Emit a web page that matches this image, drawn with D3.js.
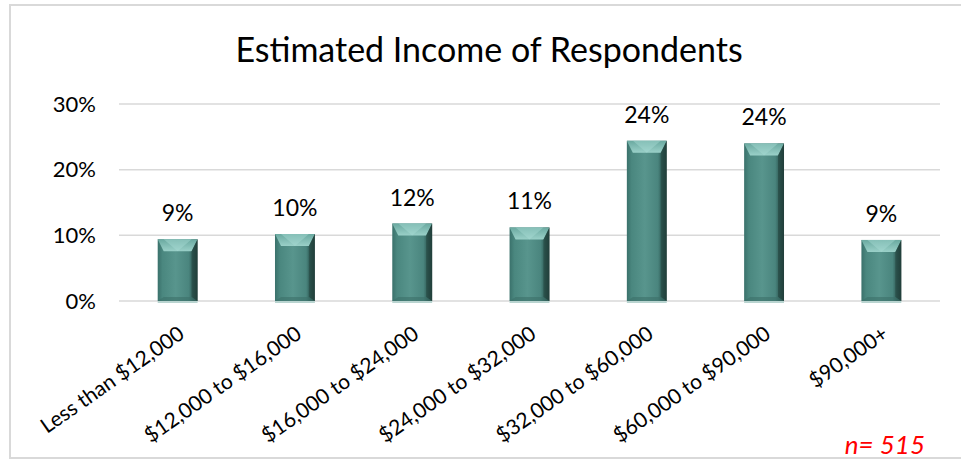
<!DOCTYPE html>
<html>
<head>
<meta charset="utf-8">
<script src="https://cdn.jsdelivr.net/npm/d3@7/dist/d3.min.js"></script>
<style>
  html, body { margin: 0; padding: 0; background: #fff; }
  svg { display: block; }
  text { font-family: Lato, "Open Sans", sans-serif; }
</style>
</head>
<body>
<script>
// Income brackets and the share of respondents in each
const categories = ["Less than $12,000", "$12,000 to $16,000", "$16,000 to $24,000",
  "$24,000 to $32,000", "$32,000 to $60,000", "$60,000 to $90,000", "$90,000+"];
const shares = [0.094, 0.102, 0.118, 0.112, 0.244, 0.240, 0.093];
const yTicks = [0, 0.1, 0.2, 0.3];
const titleText = "Estimated Income of Respondents";
const sampleNote = "n= 515";

const W = 961, H = 462;
const margin = { left: 119, right: 21, top: 104, bottom: 161 };
const FONT = "Lato, 'Open Sans', sans-serif";

const svg = d3.select("body").append("svg").attr("width", W).attr("height", H);

// chart frame
svg.append("rect")
  .attr("x", 10).attr("y", 5).attr("width", W + 10).attr("height", 453)
  .attr("fill", "#fff").attr("stroke", "#d9d9d9").attr("stroke-width", 2);

const x = d3.scaleBand().domain(categories).range([margin.left, W - margin.right]).padding(0);
const y = d3.scaleLinear().domain([0, 0.3]).range([H - margin.bottom, margin.top]);

// gradients for the bevelled bars
const defs = svg.append("defs");
const face = defs.append("linearGradient").attr("id", "face").attr("x1", 0).attr("x2", 1).attr("y1", 0).attr("y2", 0);
face.append("stop").attr("offset", 0).attr("stop-color", "#3a716b");
face.append("stop").attr("offset", 0.12).attr("stop-color", "#4a877f");
face.append("stop").attr("offset", 0.45).attr("stop-color", "#58958d");
face.append("stop").attr("offset", 0.78).attr("stop-color", "#4a857e");
face.append("stop").attr("offset", 0.9).attr("stop-color", "#2d5853");
face.append("stop").attr("offset", 1).attr("stop-color", "#213d3a");
const topG = defs.append("linearGradient").attr("id", "topbevel").attr("x1", 0).attr("x2", 0).attr("y1", 0).attr("y2", 1);
topG.append("stop").attr("offset", 0).attr("stop-color", "#6aa9a0");
topG.append("stop").attr("offset", 1).attr("stop-color", "#9ad0c8");

// gridlines and y labels
const grid = svg.append("g");
grid.selectAll("line").data(yTicks).join("line")
  .attr("x1", margin.left).attr("x2", W - margin.right)
  .attr("y1", d => y(d)).attr("y2", d => y(d))
  .attr("stroke", "#d9d9d9").attr("stroke-width", 1.5);

const yAxis = d3.axisLeft(y).tickValues(yTicks).tickFormat(d3.format(".0%")).tickSize(0).tickPadding(0);
svg.append("g").attr("transform", `translate(96,0)`).call(yAxis)
  .call(g => g.select(".domain").remove())
  .call(g => g.selectAll("text").attr("font-size", 22).attr("fill", "#000").attr("font-family", FONT));

// bars
const bw = x.bandwidth() * 0.34;
const bev = 6;
const bars = svg.append("g").selectAll("g").data(categories).join("g");
bars.each(function (c, i) {
  const g = d3.select(this);
  const x0 = x(c) + (x.bandwidth() - bw) / 2, x1 = x0 + bw;
  const y0 = y(shares[i]), y1 = y(0);
  const tb = Math.min(12, (y1 - y0) / 2);
  g.append("rect").attr("x", x0).attr("y", y0).attr("width", bw).attr("height", y1 - y0).attr("fill", "url(#face)");
  // top bevel with a lighter chevron in the middle
  g.append("path").attr("d", `M${x0},${y0}L${x1},${y0}L${x1 - bev},${y0 + tb}L${x0 + bev},${y0 + tb}Z`)
    .attr("fill", "url(#topbevel)");
  g.append("path").attr("d", `M${x0 + bev},${y0}L${x1 - bev},${y0}L${(x0 + x1) / 2},${y0 + tb}Z`)
    .attr("fill", "#a9dcd4").attr("opacity", 0.45);
  // right side shading
  g.append("path").attr("d", `M${x1},${y0}L${x1 - bev},${y0 + tb}L${x1 - bev},${y1 - 4}L${x1},${y1}Z`)
    .attr("fill", "#223f3a").attr("opacity", 0.5);
  // bottom bevel
  g.append("path").attr("d", `M${x0},${y1}L${x1},${y1}L${x1 - bev},${y1 - 4}L${x0 + bev},${y1 - 4}Z`)
    .attr("fill", "#3c6f69").attr("opacity", 0.6);
  g.append("rect").attr("x", x0).attr("y", y1).attr("width", bw).attr("height", 2).attr("fill", "#b9d4d0");
  // value label
  g.append("text").attr("x", x0 + bw / 2).attr("y", y0 - 18)
    .attr("text-anchor", "middle").attr("font-size", 23).attr("fill", "#000")
    .text(d3.format(".0%")(shares[i]));
});

// category labels
const xAxis = d3.axisBottom(x).tickSize(0).tickPadding(0);
svg.append("g").attr("transform", `translate(0,${y(0)})`).call(xAxis)
  .call(g => g.select(".domain").remove())
  .call(g => g.selectAll("text")
    .attr("font-size", 21).attr("fill", "#000").attr("font-family", FONT)
    .attr("text-anchor", "end").attr("dy", 0).attr("y", 0)
    .attr("transform", "translate(8,36) rotate(-35)"));

// title
svg.append("text").attr("x", 489).attr("y", 62).attr("text-anchor", "middle")
  .attr("font-size", 34).attr("fill", "#000").text(titleText);

// sample size note
svg.append("text").attr("x", 925).attr("y", 454).attr("text-anchor", "end")
  .attr("font-size", 26).attr("font-style", "italic").attr("fill", "#ff0000").text(sampleNote);
</script>
</body>
</html>
